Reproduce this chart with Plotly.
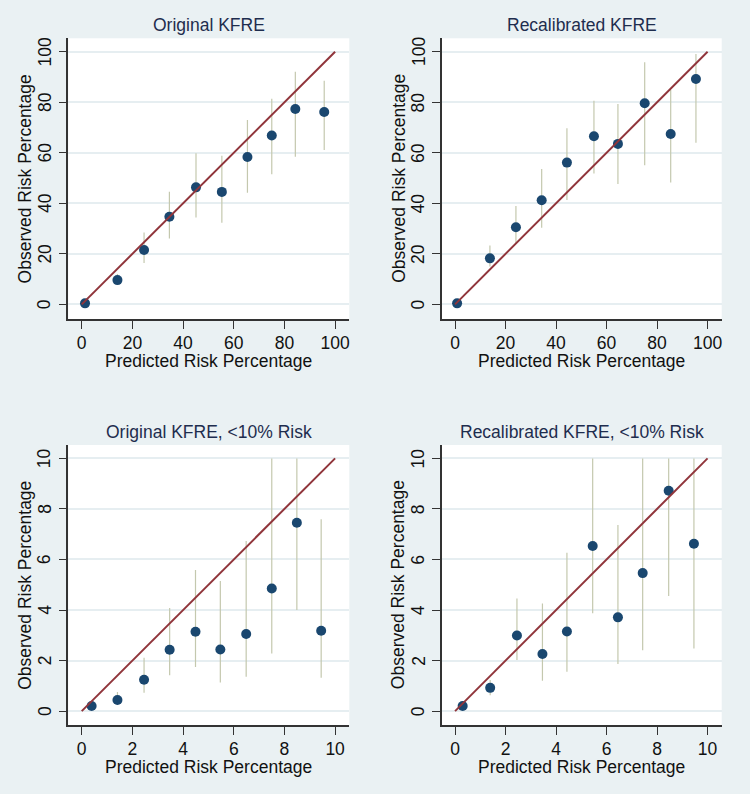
import plotly.graph_objects as go

# ---------------- data ----------------
titles = ["Original KFRE", "Recalibrated KFRE",
          "Original KFRE, <10% Risk", "Recalibrated KFRE, <10% Risk"]

# Panel 1: Original KFRE
p1_pred = [1.3, 14.1, 24.6, 34.6, 45.1, 55.3, 65.4, 75.0, 84.3, 95.7]
p1_obs = [0.4, 9.6, 21.5, 34.7, 46.3, 44.5, 58.3, 66.8, 77.3, 76.1]
p1_lo = [0.2, 7.8, 16.4, 26.1, 34.4, 32.3, 44.2, 51.5, 58.4, 61.1]
p1_hi = [0.9, 12.0, 28.4, 44.6, 59.8, 58.8, 73.0, 81.4, 92.1, 88.5]

# Panel 2: Recalibrated KFRE
p2_pred = [0.8, 13.8, 24.1, 34.3, 44.3, 55.0, 64.5, 75.1, 85.4, 95.4]
p2_obs = [0.4, 18.2, 30.5, 41.2, 56.1, 66.5, 63.5, 79.6, 67.4, 89.2]
p2_lo = [0.2, 15.0, 24.1, 30.3, 41.3, 51.8, 47.6, 55.1, 48.2, 64.0]
p2_hi = [0.9, 23.3, 38.9, 53.6, 69.7, 80.6, 79.3, 95.8, 84.8, 99.1]

# Panel 3: Original KFRE, <10% risk
p3_pred = [0.39, 1.41, 2.46, 3.47, 4.49, 5.47, 6.49, 7.50, 8.49, 9.45]
p3_obs = [0.20, 0.44, 1.24, 2.43, 3.14, 2.44, 3.05, 4.85, 7.45, 3.18]
p3_lo = [0.10, 0.24, 0.73, 1.42, 1.75, 1.13, 1.36, 2.28, 4.00, 1.32]
p3_hi = [0.30, 0.76, 2.11, 4.08, 5.58, 5.15, 6.73, 10.0, 10.0, 7.59]

# Panel 4: Recalibrated KFRE, <10% risk
p4_pred = [0.30, 1.39, 2.45, 3.46, 4.43, 5.45, 6.45, 7.43, 8.46, 9.46]
p4_obs = [0.20, 0.92, 2.99, 2.26, 3.15, 6.53, 3.71, 5.46, 8.72, 6.62]
p4_lo = [0.10, 0.63, 2.02, 1.20, 1.56, 3.87, 1.86, 2.41, 4.55, 2.48]
p4_hi = [0.30, 1.23, 4.46, 4.26, 6.27, 10.0, 7.36, 10.0, 10.0, 10.0]

ref_full = [0, 100]
ref_low = [0, 10]
ticks_full = [0, 20, 40, 60, 80, 100]
ticks_low = [0, 2, 4, 6, 8, 10]

x_label = "Predicted Risk Percentage"
y_label = "Observed Risk Percentage"

# ---------------- style ----------------
BG = "#EAF1F3"
GRID = "#E6EEF1"
MARKER = "#1A476F"
LINE = "#90353B"
ERR = "#C4C8AE"
TITLE_C = "#1E2D4E"
TXT = "#111111"
FONT = "Liberation Sans, Arial, sans-serif"
FS = 17.5

W, H = 750, 794
# panel pixel boxes: (left, right, top, bottom)
boxes = [(68.3, 349.3, 38.3, 319.0), (441.7, 721.7, 38.3, 319.0),
         (68.3, 349.3, 445.0, 725.0), (441.7, 721.7, 445.0, 725.0)]

panels = [
    (p1_pred, p1_obs, p1_lo, p1_hi, ref_full, ticks_full, [-5.3, 105.6], [-5.8, 105.3]),
    (p2_pred, p2_obs, p2_lo, p2_hi, ref_full, ticks_full, [-5.3, 105.6], [-5.8, 105.3]),
    (p3_pred, p3_obs, p3_lo, p3_hi, ref_low, ticks_low, [-0.53, 10.56], [-0.55, 10.53]),
    (p4_pred, p4_obs, p4_lo, p4_hi, ref_low, ticks_low, [-0.53, 10.56], [-0.55, 10.53]),
]

fig = go.Figure()
annotations = []
layout_axes = {}

for i, (px, py, lo, hi, ref, ticks, xr, yr) in enumerate(panels):
    n = "" if i == 0 else str(i + 1)
    xa, ya = "x" + n, "y" + n
    l, r, t, b = boxes[i]
    fig.add_trace(go.Scatter(
        x=px, y=py, mode="markers", xaxis=xa, yaxis=ya,
        marker=dict(color=MARKER, size=10, line=dict(width=0)),
        error_y=dict(type="data", symmetric=False,
                     array=[h - v for h, v in zip(hi, py)],
                     arrayminus=[v - lo_ for v, lo_ in zip(py, lo)],
                     color=ERR, thickness=1.2, width=0),
        showlegend=False, hoverinfo="skip"))
    fig.add_trace(go.Scatter(
        x=ref, y=ref, mode="lines", xaxis=xa, yaxis=ya,
        line=dict(color=LINE, width=2), showlegend=False, hoverinfo="skip"))

    common = dict(showline=True, linecolor="#333333", linewidth=1.5,
                  ticks="outside", ticklen=8, tickwidth=1.3, tickcolor="#333333",
                  tickfont=dict(family=FONT, size=FS, color=TXT),
                  tickvals=ticks, zeroline=False, fixedrange=True)
    layout_axes["xaxis" + n] = dict(
        common, domain=[l / W, r / W], range=xr, anchor=ya, showgrid=False,
        ticklabelstandoff=-1)
    layout_axes["yaxis" + n] = dict(
        common, domain=[1 - b / H, 1 - t / H], range=yr, anchor=xa,
        showgrid=True, gridcolor=GRID, gridwidth=1.5, showticklabels=False)

    # rotated y tick labels, placed at the axis' own tick values
    for tv in ticks:
        annotations.append(dict(text=str(tv), x=(l - 23.5) / W, y=tv,
                                xref="paper", yref=ya, showarrow=False,
                                xanchor="center", yanchor="middle", textangle=-90,
                                font=dict(family=FONT, size=FS, color=TXT)))

    cx = (l + r) / 2 / W
    annotations.append(dict(text=titles[i], x=cx, y=1 - (t - 13.5) / H,
                            xref="paper", yref="paper", showarrow=False,
                            xanchor="center", yanchor="middle",
                            font=dict(family=FONT, size=FS, color=TITLE_C)))
    annotations.append(dict(text=x_label, x=cx, y=1 - (b + 42) / H,
                            xref="paper", yref="paper", showarrow=False,
                            xanchor="center", yanchor="middle",
                            font=dict(family=FONT, size=FS, color=TXT)))
    annotations.append(dict(text=y_label, x=(l - 43.5) / W, y=1 - (t + b) / 2 / H,
                            xref="paper", yref="paper", showarrow=False,
                            xanchor="center", yanchor="middle", textangle=-90,
                            font=dict(family=FONT, size=FS, color=TXT)))

fig.update_layout(
    width=W, height=H, margin=dict(l=0, r=0, t=0, b=0),
    paper_bgcolor=BG, plot_bgcolor="white",
    annotations=annotations, **layout_axes)

fig.write_html(
    "out.html",
    config={"displayModeBar": False},
    post_script="document.body.style.margin='0';"
                "document.body.style.background='" + BG + "';"
                "document.body.style.overflow='hidden';")
